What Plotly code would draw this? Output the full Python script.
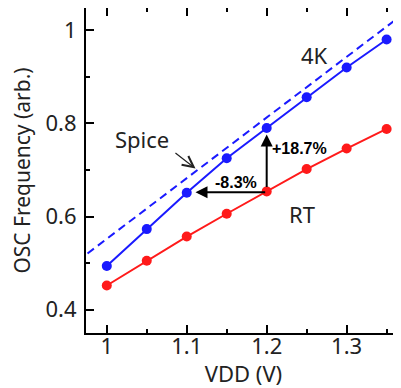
import plotly.graph_objects as go

vdd = [1.0, 1.05, 1.1, 1.15, 1.2, 1.25, 1.3, 1.35]
freq_4k = [0.494, 0.573, 0.651, 0.725, 0.790, 0.856, 0.920, 0.980]
freq_rt = [0.452, 0.505, 0.557, 0.606, 0.654, 0.702, 0.746, 0.788]
spice_vdd = [0.95, 1.40]
spice_freq = [0.487, 1.073]

xticks = [1.0, 1.1, 1.2, 1.3]
xticklabels = ["1", "1.1", "1.2", "1.3"]
yticks = [0.4, 0.6, 0.8, 1.0]
yticklabels = ["0.4", "0.6", "0.8", "1"]

FONT = "Noto Sans"
fig = go.Figure()
fig.add_trace(go.Scatter(x=spice_vdd, y=spice_freq, mode="lines",
                         line=dict(color="#1a1aff", width=2, dash="8px,5px"),
                         showlegend=False, hoverinfo="skip"))
fig.add_trace(go.Scatter(x=vdd, y=freq_4k, mode="lines+markers",
                         line=dict(color="#1a1aff", width=2),
                         marker=dict(color="#1a1aff", size=10),
                         showlegend=False))
fig.add_trace(go.Scatter(x=vdd, y=freq_rt, mode="lines+markers",
                         line=dict(color="#ff1a1a", width=2),
                         marker=dict(color="#ff1a1a", size=10),
                         showlegend=False))

axis_common = dict(showline=True, linecolor="black", linewidth=2, mirror="ticks",
                   ticks="inside", ticklen=8, tickwidth=2, tickcolor="black",
                   showgrid=False, zeroline=False, automargin=False,
                   tickfont=dict(family=FONT, size=22, color="#222"))

fig.update_xaxes(range=[0.974, 1.368], tickvals=xticks, ticktext=xticklabels,
                 ticklabelstandoff=-7,
                 minor=dict(dtick=0.05, tick0=1.0, ticks="inside", ticklen=4,
                            tickwidth=2, tickcolor="black", showgrid=False),
                 title=dict(text="VDD (V)", font=dict(family=FONT, size=22, color="#222"),
                            standoff=4),
                 **axis_common)
fig.update_yaxes(range=[0.35, 1.0477], tickvals=yticks, ticktext=yticklabels,
                 ticklabelstandoff=3,
                 minor=dict(dtick=0.1, tick0=0.4, ticks="inside", ticklen=4,
                            tickwidth=2, tickcolor="black", showgrid=False),
                 title=dict(text="OSC Frequency (arb.)",
                            font=dict(family=FONT, size=21, color="#222"), standoff=9),
                 **axis_common)

ann_font = dict(family=FONT, size=22, color="#222")
fig.add_annotation(x=1.26, y=0.947, text="4K", showarrow=False, font=ann_font)
fig.add_annotation(x=1.244, y=0.606, text="RT", showarrow=False, font=ann_font)
fig.add_annotation(x=1.044, y=0.766, text="Spice", showarrow=False, font=ann_font)
# Spice pointer
fig.add_annotation(x=1.111, y=0.703, ax=1.084, ay=0.739, xref="x", yref="y",
                   axref="x", ayref="y", text="", showarrow=True, arrowhead=5,
                   arrowsize=1.8, arrowwidth=1.2, arrowcolor="#222")
# +18.7% arrow
fig.add_annotation(x=1.2, y=0.776, ax=1.2, ay=0.66, xref="x", yref="y",
                   axref="x", ayref="y", text="", showarrow=True, arrowhead=2,
                   arrowsize=1.2, arrowwidth=2, arrowcolor="black")
fig.add_annotation(x=1.2415, y=0.747, text="<b>+18.7%</b>", showarrow=False,
                   font=dict(family="Liberation Sans", size=16, color="black"))
# -8.3% arrow
fig.add_annotation(x=1.111, y=0.652, ax=1.2, ay=0.652, xref="x", yref="y",
                   axref="x", ayref="y", text="", showarrow=True, arrowhead=2,
                   arrowsize=1.2, arrowwidth=2, arrowcolor="black")
fig.add_annotation(x=1.161, y=0.673, text="<b>-8.3%</b>", showarrow=False,
                   font=dict(family="Liberation Sans", size=16, color="black"))

# page body has an 8px default margin, so the figure is sized to fit the window
fig.update_layout(width=393, height=380, margin=dict(l=78, r=0, t=0, b=55),
                  plot_bgcolor="white", paper_bgcolor="white")
fig.write_html("out.html")
